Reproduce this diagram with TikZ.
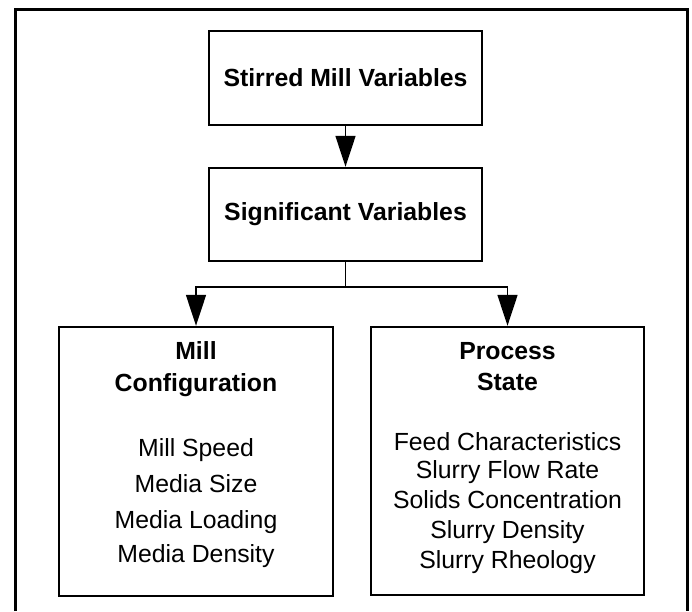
\documentclass[tikz,border=0pt]{standalone}
\usepackage{fontspec}
\setmainfont{Liberation Sans}
\usetikzlibrary{arrows.meta}
\begin{document}
\begin{tikzpicture}[x=1pt,y=-1pt,
  every node/.style={font=\fontsize{24.8}{30}\selectfont},
  box/.style={draw=black, line width=2.4pt, fill=white, inner sep=0pt},
  heading/.style={font=\fontsize{24.8}{30}\selectfont\bfseries},
  item/.style={anchor=base, inner sep=0pt},
  link/.style={draw=black, line width=1.5pt},
  arr/.style={link, -{Triangle[length=31pt,width=20pt]}}]
\useasboundingbox (0,0) rectangle (692,611);
\fill[white] (0,0) rectangle (692,611);
% outer frame, open at the bottom edge
\draw[line width=3pt] (15,611) -- (15,9) -- (687,9) -- (687,611);

% top two boxes
\node[box, heading, minimum width=273pt, minimum height=94pt] (smv) at (345.5,78) {Stirred Mill Variables};
\node[box, heading, minimum width=273pt, minimum height=93pt] (sig) at (345.5,214.5) {Significant Variables};

% lower boxes
\node[box, minimum width=274pt, minimum height=269pt] (mill) at (196,461.5) {};
\node[box, minimum width=273pt, minimum height=268pt] (proc) at (507.5,461) {};

% connectors
\coordinate (split) at (345.5,287);
\draw[arr] (smv.south) -- (sig.north);
\draw[link] (sig.south) -- (split);
\draw[arr] (split) -| (mill.north);
\draw[arr] (split) -| (proc.north);

% mill configuration text
\node[item, heading] (m1) at (196,359) {Mill};
\node[item, heading] (m2) at (196,391) {Configuration};
\node[item] (m3) at (196,456) {Mill Speed};
\node[item] (m4) at (196,492) {Media Size};
\node[item] (m5) at (196,528) {Media Loading};
\node[item] (m6) at (196,562) {Media Density};

% process state text
\node[item, heading] (p1) at (507.5,359) {Process};
\node[item, heading] (p2) at (507.5,390) {State};
\node[item] (p3) at (507.5,450) {Feed Characteristics};
\node[item] (p4) at (507.5,478) {Slurry Flow Rate};
\node[item] (p5) at (507.5,508) {Solids Concentration};
\node[item] (p6) at (507.5,538) {Slurry Density};
\node[item] (p7) at (507.5,568) {Slurry Rheology};
\end{tikzpicture}
\end{document}
